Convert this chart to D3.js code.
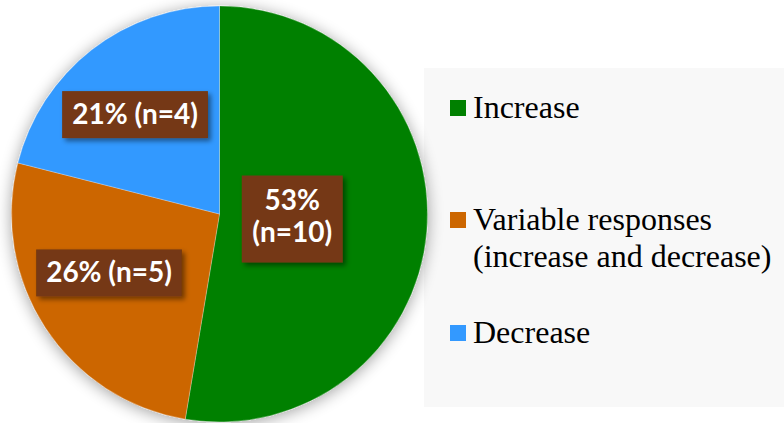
<!DOCTYPE html>
<html>
<head>
<meta charset="utf-8">
<script src="https://cdn.jsdelivr.net/npm/d3@7"></script>
<style>
  html, body { margin: 0; padding: 0; background: #ffffff; }
  svg { display: block; }
  .legend-text { font-family: "Liberation Serif", "Times New Roman", "DejaVu Serif", serif; }
  .data-label { font-family: Lato, "Open Sans", sans-serif; font-weight: 700; }
</style>
</head>
<body>
<svg id="chart" width="784" height="423"></svg>
<script>
// Response categories and counts
const categories = ["Increase", "Variable responses (increase and decrease)", "Decrease"];
const legendLines = [["Increase"], ["Variable responses", "(increase and decrease)"], ["Decrease"]];
const counts = [10, 5, 4];
const percentLabels = ["53%", "26%", "21%"];
const colors = ["#008000", "#CC6600", "#3399FF"];

const svg = d3.select("#chart");
const W = 784, H = 423;
const cx = 219.5, cy = 214, R = 208;

const defs = svg.append("defs");
const glow = defs.append("filter").attr("id", "pieGlow")
  .attr("x", "-20%").attr("y", "-20%").attr("width", "140%").attr("height", "140%");
glow.append("feGaussianBlur").attr("in", "SourceAlpha").attr("stdDeviation", 8).attr("result", "b");
glow.append("feOffset").attr("in", "b").attr("dx", 0).attr("dy", 2).attr("result", "o");
glow.append("feComponentTransfer").attr("in", "o").attr("result", "s")
  .append("feFuncA").attr("type", "linear").attr("slope", 0.38);
const gm = glow.append("feMerge");
gm.append("feMergeNode").attr("in", "s");
gm.append("feMergeNode").attr("in", "SourceGraphic");

const boxShadow = defs.append("filter").attr("id", "boxShadow")
  .attr("x", "-20%").attr("y", "-30%").attr("width", "140%").attr("height", "160%");
boxShadow.append("feDropShadow").attr("dx", 3).attr("dy", 3).attr("stdDeviation", 2.5)
  .attr("flood-color", "#000").attr("flood-opacity", 0.45);

// Legend panel
svg.append("rect").attr("x", 424).attr("y", 68).attr("width", W - 424).attr("height", 339)
  .attr("fill", "#f8f8f8");

const legendY = [100, 212, 325];
const legend = svg.append("g");
categories.forEach((c, i) => {
  const g = legend.append("g");
  g.append("rect").attr("x", 450).attr("y", legendY[i]).attr("width", 16).attr("height", 16)
    .attr("fill", colors[i]);
  const t = g.append("text").attr("class", "legend-text")
    .attr("x", 473).attr("y", legendY[i] + 18)
    .attr("font-size", 32).attr("fill", "#000");
  legendLines[i].forEach((line, j) => {
    t.append("tspan").attr("x", 473).attr("dy", j === 0 ? 0 : 37).text(line);
  });
});

// Pie, clockwise from 12 o'clock
const pie = d3.pie().sort(null).value(d => d)(counts);
const arc = d3.arc().innerRadius(0).outerRadius(R);

const pg = svg.append("g").attr("transform", `translate(${cx},${cy})`).attr("filter", "url(#pieGlow)");
pg.selectAll("path").data(pie).join("path")
  .attr("d", arc)
  .attr("fill", (d, i) => colors[i])
  .attr("stroke", "rgba(255,255,255,0.35)")
  .attr("stroke-width", 0.8);

// Data labels on brown boxes
const labelRadius = [73, 126, 131];
const labelNudge = [[0, -1], [-5, -10], [-4, 4]];
const labelLines = counts.map((n, i) =>
  i === 0 ? [percentLabels[i], `(n=${n})`] : [`${percentLabels[i]} (n=${n})`]);

const lg = svg.append("g").attr("transform", `translate(${cx},${cy})`);
pie.forEach((d, i) => {
  const a = (d.startAngle + d.endAngle) / 2;
  const x = Math.sin(a) * labelRadius[i] + labelNudge[i][0];
  const y = -Math.cos(a) * labelRadius[i] + labelNudge[i][1];
  const g = lg.append("g").attr("transform", `translate(${x},${y})`);
  const box = g.append("rect").attr("fill", "#743812").attr("filter", "url(#boxShadow)");
  const lines = labelLines[i];
  const lh = 32;
  const t = g.append("text").attr("class", "data-label")
    .attr("text-anchor", "middle")
    .attr("font-size", 28)
    .attr("fill", "#ffffff");
  lines.forEach((line, j) => {
    t.append("tspan").attr("x", 0)
      .attr("y", (j - (lines.length - 1) / 2) * lh + (lines.length === 1 ? 9 : 7))
      .text(line);
  });
  const bb = t.node().getBBox();
  const padX = 10;
  const h = lines.length === 1 ? 47 : 87;
  const w = Math.max(bb.width + 2 * padX, lines.length === 1 ? 0 : 101);
  box.attr("x", -w / 2).attr("y", -h / 2).attr("width", w).attr("height", h);
});
</script>
</body>
</html>
